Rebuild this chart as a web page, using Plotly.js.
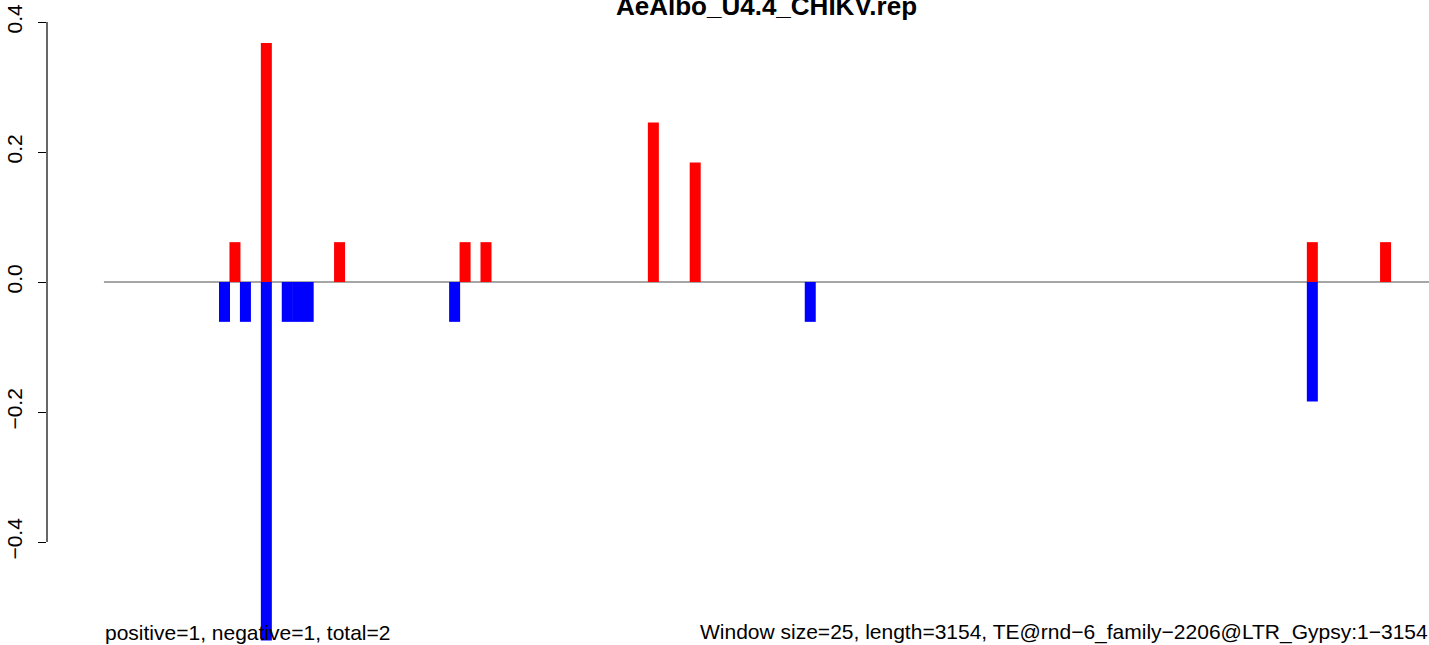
<!DOCTYPE html>
<html>
<head>
<meta charset="utf-8">
<script src="https://cdn.plot.ly/plotly-3.0.1.min.js"></script>
<style>html,body{margin:0;padding:0;background:#fff;}#chart{width:1429px;height:645px;}</style>
</head>
<body>
<div id="chart"></div>
<script>
// ---- data (window index = position / window size) ----
const chartTitle = "AeAlbo_U4.4_CHIKV.rep";
const windowSize = 25;
const seqLength = 3154;
const positiveWindows = [12, 15, 22, 34, 36, 52, 56, 115, 122];
const positiveValues  = [0.0613, 0.3677, 0.0613, 0.0613, 0.0613, 0.2452, 0.1839, 0.0613, 0.0613];
const negativeWindows = [11, 13, 15, 17, 18, 19, 33, 67, 115];
const negativeValues  = [-0.0613, -0.0613, -0.5517, -0.0613, -0.0613, -0.0613, -0.0613, -0.0613, -0.1839];
const yTicks = [-0.4, -0.2, 0.0, 0.2, 0.4];
const yTickLabels = ["\u22120.4", "\u22120.2", "0.0", "0.2", "0.4"];
const leftNote = "positive=1, negative=1, total=2";
const rightNote = "Window size=25, length=3154, TE@rnd\u22126_family\u22122206@LTR_Gypsy:1\u22123154";

// ---- layout geometry ----
const W = 1429, H = 645, ML = 47;
const pxPerWin = 10.46, originPx = 103.94;
const xMin = (ML - originPx) / pxPerWin;
const xMax = (W - originPx) / pxPerWin;
const yTop = 0.4 + 22 / 650, yBot = -(645 - 282) / 650;
const barW = 11 / pxPerWin;
const paperX = px => (px - ML) / (W - ML);
const font = "Liberation Sans, Arial, Helvetica, sans-serif";

const traces = [
  {type: 'bar', x: positiveWindows, y: positiveValues, width: barW, offset: 0,
   marker: {color: '#ff0000', line: {width: 0}}, hoverinfo: 'x+y'},
  {type: 'bar', x: negativeWindows, y: negativeValues, width: barW, offset: 0,
   marker: {color: '#0000ff', line: {width: 0}}, hoverinfo: 'x+y'}
];

const layout = {
  width: W, height: H,
  margin: {l: ML, r: 0, t: 0, b: 0, pad: 0},
  paper_bgcolor: '#fff', plot_bgcolor: '#fff',
  showlegend: false, barmode: 'overlay',
  font: {family: font, color: '#000', size: 21},
  title: {text: '<b>' + chartTitle + '</b>', font: {family: font, size: 26, color: '#000'},
          xref: 'container', x: 766.5 / W, xanchor: 'center',
          yref: 'container', y: 1 - 5.9 / H, yanchor: 'middle'},
  xaxis: {range: [xMin, xMax], visible: false, showgrid: false, zeroline: false, fixedrange: true},
  yaxis: {range: [yBot, yTop], showgrid: false, zeroline: false, showline: false,
          tickmode: 'array', tickvals: yTicks, ticktext: yTickLabels,
          ticks: 'outside', ticklen: 8, tickwidth: 1, tickcolor: '#000',
          tickangle: -90, tickfont: {family: font, size: 21, color: '#000'},
          ticklabelstandoff: 8, fixedrange: true},
  shapes: [
    {type: 'line', xref: 'x', yref: 'y', x0: 0, x1: xMax, y0: 0, y1: 0,
     line: {color: '#888888', width: 1.4}, layer: 'below'},
    {type: 'line', xref: 'paper', yref: 'y', x0: 0, x1: 0, y0: -0.4, y1: 0.4,
     line: {color: '#000', width: 1.2}}
  ],
  annotations: [
    {text: leftNote, xref: 'paper', yref: 'paper', x: paperX(104), y: 0,
     xanchor: 'left', yanchor: 'bottom', showarrow: false, borderpad: 0,
     font: {family: font, size: 21, color: '#000'}},
    {text: rightNote, xref: 'paper', yref: 'paper', x: 1, y: 0,
     xanchor: 'right', yanchor: 'bottom', showarrow: false, borderpad: 0,
     font: {family: font, size: 21, color: '#000'}}
  ]
};

Plotly.newPlot('chart', traces, layout, {displayModeBar: false, staticPlot: true});
</script>
</body>
</html>
